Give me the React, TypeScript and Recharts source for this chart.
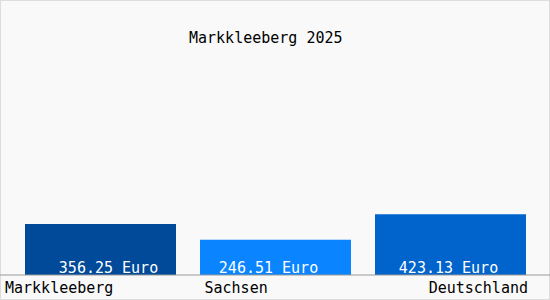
import React from 'react';
import { BarChart, Bar, XAxis, YAxis, Cell, LabelList } from 'recharts';

const title = 'Markkleeberg 2025';
const categories = ['Markkleeberg', 'Sachsen', 'Deutschland'];
const values = [356.25, 246.51, 423.13];
const valueLabels = ['356.25 Euro', '246.51 Euro', '423.13 Euro'];
const colors = ['#004a99', '#0a84ff', '#0064cc'];

const data = categories.map((name, i) => ({ name, value: values[i], label: valueLabels[i] }));

const FONT = '"DejaVu Sans Mono", monospace';

// per-label horizontal nudges (style)
const LABEL_DX = [8, -7, -2];

const Tick = (props: any) => {
  const { x, y, payload, index } = props;
  let anchor: 'start' | 'middle' | 'end' = 'middle';
  let tx = x;
  if (index === 0) { anchor = 'start'; tx = x - 95.5; }
  else if (index === categories.length - 1) { anchor = 'end'; tx = x + 77.5; }
  else { anchor = 'start'; tx = x - 71; }
  return (
    <text x={tx} y={y + 18} textAnchor={anchor} fontFamily={FONT} fontSize={15} fill="#000">
      {payload.value}
    </text>
  );
};

const BarLabel = (props: any) => {
  const { x, y, width, height, index, value } = props;
  return (
    <text
      x={x + width / 2 + LABEL_DX[index]}
      y={y + height - 2}
      textAnchor="middle"
      fontFamily={FONT}
      fontSize={15}
      fill="#ffffff"
    >
      {value}
    </text>
  );
};

export default function App() {
  return (
    <div
      style={{
        position: 'absolute',
        left: 0,
        top: 0,
        width: 550,
        height: 300,
        boxSizing: 'border-box',
        border: '1px solid #dddddd',
        background: '#f9f9f9',
      }}
    >
      <div
        style={{
          position: 'absolute',
          left: 188,
          top: 28,
          fontFamily: FONT,
          fontSize: 15,
          color: '#000',
          whiteSpace: 'nowrap',
          lineHeight: 'normal',
        }}
      >
        {title}
      </div>
      <div style={{ position: 'absolute', left: -1, top: -1 }}>
        <BarChart
          width={550}
          height={300}
          data={data}
          margin={{ top: 60, right: 0, bottom: 0, left: 0 }}
          barCategoryGap={12}
        >
          <XAxis
            dataKey="name"
            height={25}
            padding={{ left: 13, right: 12 }}
            tickLine={false}
            tickSize={0}
            tickMargin={0}
            axisLine={{ stroke: '#999999' }}
            tick={<Tick />}
            interval={0}
          />
          <YAxis hide domain={[0, 1500]} />
          <Bar dataKey="value" isAnimationActive={false}>
            {data.map((d, i) => (
              <Cell key={d.name} fill={colors[i]} />
            ))}
            <LabelList dataKey="label" content={<BarLabel />} />
          </Bar>
        </BarChart>
      </div>
    </div>
  );
}
